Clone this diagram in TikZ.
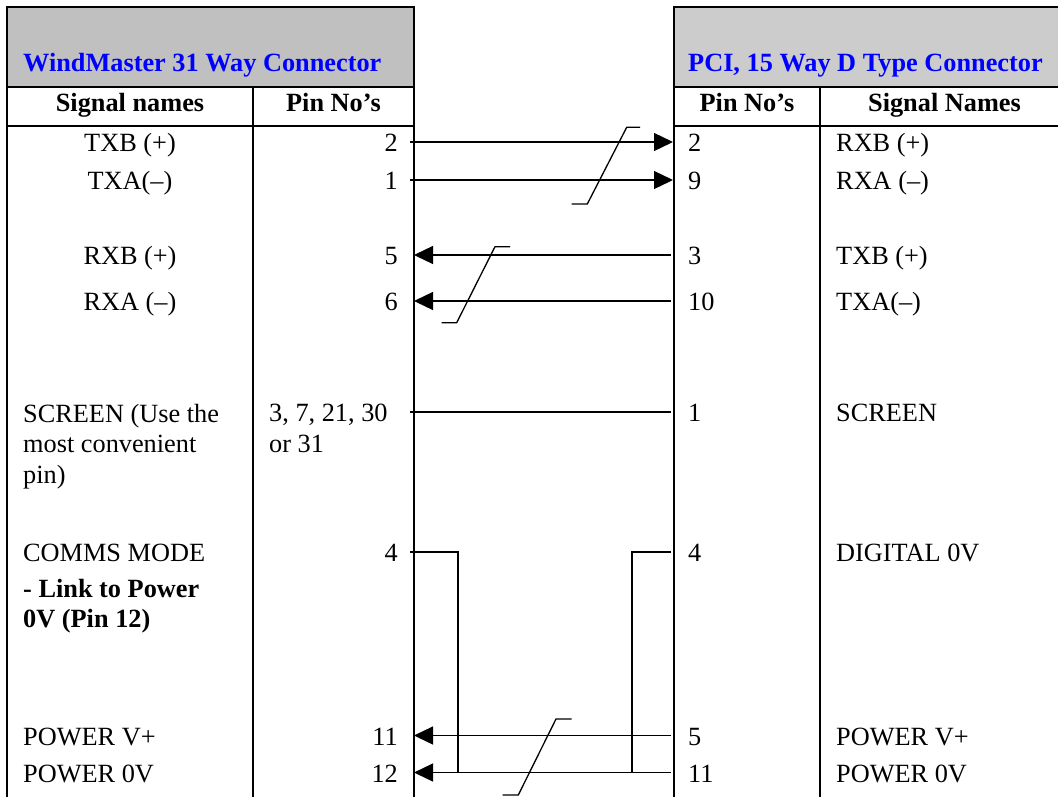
\documentclass[tikz,border=0pt]{standalone}
\usepackage{fontspec}
\setmainfont{Liberation Serif}
\usetikzlibrary{arrows.meta}
\definecolor{hdrgrayL}{RGB}{192,192,192}
\definecolor{hdrgrayR}{RGB}{204,204,204}
\definecolor{titleblue}{RGB}{0,0,255}
\begin{document}
\begin{tikzpicture}[x=1pt,y=-1pt,
  txt/.style={inner sep=0pt, font=\fontsize{26.3}{30}\selectfont},
  btxt/.style={inner sep=0pt, font=\fontsize{26.3}{30}\selectfont\bfseries},
  ttl/.style={btxt, text=titleblue},
  border/.style={line width=2.2pt},
  wire/.style={line width=1.3pt},
  arrowwire/.style={wire, -{Triangle[length=19pt,width=18pt]}},
  brk/.style={line width=1.3pt},
]
\useasboundingbox (0,0) rectangle (1058,796);
\clip (0,0) rectangle (1058,796);
% header fills
\fill[hdrgrayL] (7,7) rectangle (414,87);
\fill[hdrgrayR] (674,7) rectangle (1070,87);
% left table
\draw[border] (7,800) -- (7,7) -- (414,7) -- (414,800);
\draw[border] (7,87) -- (414,87);
\draw[border] (7,126) -- (414,126);
\draw[border] (253,87) -- (253,800);
% right table
\draw[border] (674,800) -- (674,7) -- (1070,7);
\draw[border] (674,87) -- (1070,87);
\draw[border] (674,126) -- (1070,126);
\draw[border] (820,87) -- (820,800);
% titles and headers
\node[ttl, anchor=base west] (ttlL) at (23,71) {WindMaster 31 Way Connector};
\node[ttl, anchor=base west] (ttlR) at (688,71) {PCI, 15 Way D Type Connector};
\node[btxt, anchor=base] (hSigL) at (130,111) {Signal names};
\node[btxt, anchor=base] (hPinL) at (333.5,111) {Pin No’s};
\node[btxt, anchor=base] (hPinR) at (747,111) {Pin No’s};
\node[btxt, anchor=base] (hSigR) at (944.5,111) {Signal Names};
% left signal names
\node[txt, anchor=base] (sL1) at (130,151) {TXB (+)};
\node[txt, anchor=base] (sL2) at (130,189) {TXA(–)};
\node[txt, anchor=base] (sL3) at (130,264) {RXB (+)};
\node[txt, anchor=base] (sL4) at (130,310) {RXA (–)};
\node[txt, anchor=base west] (sL5a) at (23,422) {SCREEN (Use the};
\node[txt, anchor=base west] (sL5b) at (23,452.5) {most convenient};
\node[txt, anchor=base west] (sL5c) at (23,483) {pin)};
\node[txt, anchor=base west] (sL6a) at (23,561) {COMMS MODE};
\node[btxt, anchor=base west] (sL6b) at (23,597) {- Link to Power};
\node[btxt, anchor=base west] (sL6c) at (23,627) {0V (Pin 12)};
\node[txt, anchor=base west] (sL7) at (23,745) {POWER V+};
\node[txt, anchor=base west] (sL8) at (23,782) {POWER 0V};
% left pins
\node[txt, anchor=base east] (pL1) at (398,151) {2};
\node[txt, anchor=base east] (pL2) at (398,189) {1};
\node[txt, anchor=base east] (pL3) at (398,264) {5};
\node[txt, anchor=base east] (pL4) at (398,310) {6};
\node[txt, anchor=base west] (pL5a) at (269,421) {3, 7, 21, 30};
\node[txt, anchor=base west] (pL5b) at (269,452) {or 31};
\node[txt, anchor=base east] (pL6) at (398,561) {4};
\node[txt, anchor=base east] (pL7) at (398,745) {11};
\node[txt, anchor=base east] (pL8) at (398,782) {12};
% right pins
\node[txt, anchor=base west] (pR1) at (688,151) {2};
\node[txt, anchor=base west] (pR2) at (688,189) {9};
\node[txt, anchor=base west] (pR3) at (688,264) {3};
\node[txt, anchor=base west] (pR4) at (688,310) {10};
\node[txt, anchor=base west] (pR5) at (688,421) {1};
\node[txt, anchor=base west] (pR6) at (688,561) {4};
\node[txt, anchor=base west] (pR7) at (688,745) {5};
\node[txt, anchor=base west] (pR8) at (688,782) {11};
% right signal names
\node[txt, anchor=base west] (sR1) at (836,151) {RXB (+)};
\node[txt, anchor=base west] (sR2) at (836,189) {RXA (–)};
\node[txt, anchor=base west] (sR3) at (836,264) {TXB (+)};
\node[txt, anchor=base west] (sR4) at (836,310) {TXA(–)};
\node[txt, anchor=base west] (sR5) at (836,421) {SCREEN};
\node[txt, anchor=base west] (sR6) at (836,561) {DIGITAL 0V};
\node[txt, anchor=base west] (sR7) at (836,745) {POWER V+};
\node[txt, anchor=base west] (sR8) at (836,782) {POWER 0V};
% wire end points
\coordinate (wL1) at (410,142);   \coordinate (wR1) at (673,142);
\coordinate (wL2) at (410,180);   \coordinate (wR2) at (673,180);
\coordinate (wL3) at (414,255);   \coordinate (wR3) at (671,255);
\coordinate (wL4) at (414,301);   \coordinate (wR4) at (671,301);
\coordinate (wL5) at (410,412);   \coordinate (wR5) at (671,412);
\coordinate (wL6) at (410,552);   \coordinate (wR6) at (671,552);
\coordinate (wL7) at (414,735.5); \coordinate (wR7) at (671,735.5);
\coordinate (wL8) at (414,772.5); \coordinate (wR8) at (671,772.5);
\coordinate (jL4) at (458,552);   \coordinate (jL12) at (458,772.5);
\coordinate (jR4) at (632,552);   \coordinate (jR12) at (632,772.5);
% wires
\draw[arrowwire] (wL1) -- (wR1);
\draw[arrowwire] (wL2) -- (wR2);
\draw[arrowwire] (wR3) -- (wL3);
\draw[arrowwire] (wR4) -- (wL4);
\draw[wire] (wL5) -- (wR5);
\draw[arrowwire] (wR7) -- (wL7);
\draw[arrowwire] (wR8) -- (wL8);
\draw[wire] (wL6) -- (jL4) -- (jL12);
\draw[wire] (wR6) -- (jR4) -- (jR12);
% twisted-pair break marks
\draw[brk] (571.7,204) -- (587.3,204) -- (626.7,127.3) -- (640,127.3);
\draw[brk] (441.7,322.7) -- (456.7,322.7) -- (495,246.7) -- (510,246.7);
\draw[brk] (502.7,795) -- (518.3,795) -- (556,719) -- (571.7,719);
\end{tikzpicture}
\end{document}
